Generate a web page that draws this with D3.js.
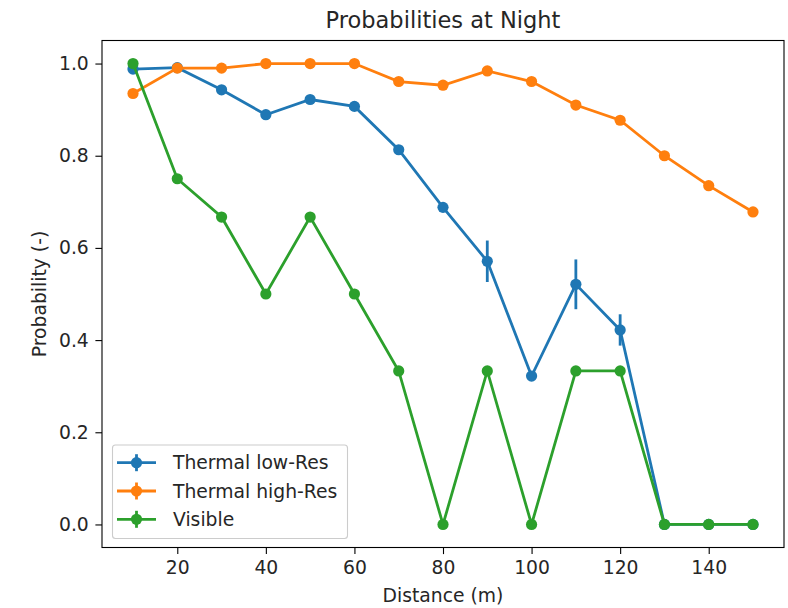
<!DOCTYPE html>
<html>
<head>
<meta charset="utf-8">
<script src="https://cdn.jsdelivr.net/npm/d3@7"></script>
<style>
  body { margin: 0; background: #fff; }
  svg text { font-family: "DejaVu Sans", sans-serif; fill: #262626; }
</style>
</head>
<body>
<svg id="vis" width="788" height="608"></svg>
<script>
// data
var distances = [10, 20, 30, 40, 50, 60, 70, 80, 90, 100, 110, 120, 130, 140, 150];
var lowRes = [0.988, 0.991, 0.943, 0.889, 0.922, 0.907, 0.813, 0.688, 0.571, 0.322, 0.521, 0.422, 0, 0, 0];
var lowResErr = [0, 0, 0, 0, 0, 0, 0, 0, 0.045, 0, 0.054, 0.034, 0, 0, 0];
var highRes = [0.935, 0.990, 0.990, 1.0, 1.0, 1.0, 0.961, 0.953, 0.984, 0.961, 0.910, 0.877, 0.800, 0.735, 0.678];
var highResErr = [0, 0, 0, 0, 0, 0, 0, 0, 0, 0, 0, 0, 0, 0, 0];
var visible = [1.0, 0.75, 0.667, 0.5, 0.667, 0.5, 0.333, 0, 0.333, 0, 0.333, 0.333, 0, 0, 0];
var visibleErr = [0, 0, 0, 0, 0, 0, 0, 0, 0, 0, 0, 0, 0, 0, 0];
var seriesNames = ["Thermal low-Res", "Thermal high-Res", "Visible"];
var xTicks = [20, 40, 60, 80, 100, 120, 140];
var yTicks = [0.0, 0.2, 0.4, 0.6, 0.8, 1.0];

var colors = ["#1f77b4", "#ff7f0e", "#2ca02c"];
var allSeries = [
  {name: seriesNames[0], vals: lowRes, err: lowResErr},
  {name: seriesNames[1], vals: highRes, err: highResErr},
  {name: seriesNames[2], vals: visible, err: visibleErr}
];

// plot box (named so they don't clash with window.top)
var axL = 102, axR = 784, axT = 40.5, axB = 547.5;
var fs = 18.75;

var svg = d3.select("#vis");

var x = d3.scaleLinear().domain([3, 157]).range([axL, axR]);
var y = d3.scaleLinear().domain([-0.05, 1.05]).range([axB, axT]);

// x axis
var gx = svg.append("g")
  .attr("transform", "translate(0," + axB + ")")
  .call(d3.axisBottom(x).tickValues(xTicks).tickFormat(d3.format("d"))
    .tickSize(6.6).tickPadding(6.6).tickSizeOuter(0));
gx.select(".domain").remove();
gx.selectAll("line").attr("stroke", "#000").attr("stroke-width", 1.1);
gx.selectAll("text").style("font-size", fs + "px").style("font-family", "DejaVu Sans").attr("fill", "#262626");

// y axis
var gy = svg.append("g")
  .attr("transform", "translate(" + axL + ",0)")
  .call(d3.axisLeft(y).tickValues(yTicks).tickFormat(d3.format(".1f"))
    .tickSize(6.6).tickPadding(6.6).tickSizeOuter(0));
gy.select(".domain").remove();
gy.selectAll("line").attr("stroke", "#000").attr("stroke-width", 1.1);
gy.selectAll("text").style("font-size", fs + "px").style("font-family", "DejaVu Sans").attr("fill", "#262626");

// series
var line = d3.line()
  .x(function(d) { return x(d.x); })
  .y(function(d) { return y(d.y); });

allSeries.forEach(function(s, si) {
  var pts = distances.map(function(d, i) { return {x: d, y: s.vals[i], e: s.err[i]}; });
  var g = svg.append("g");
  g.append("path")
    .datum(pts)
    .attr("d", line)
    .attr("fill", "none")
    .attr("stroke", colors[si])
    .attr("stroke-width", 2.8);
  g.selectAll(".err")
    .data(pts.filter(function(p) { return p.e > 0; }))
    .enter()
    .append("line")
    .attr("x1", function(p) { return x(p.x); })
    .attr("x2", function(p) { return x(p.x); })
    .attr("y1", function(p) { return y(p.y - p.e); })
    .attr("y2", function(p) { return y(p.y + p.e); })
    .attr("stroke", colors[si])
    .attr("stroke-width", 2.8);
  g.selectAll("circle")
    .data(pts)
    .enter()
    .append("circle")
    .attr("cx", function(p) { return x(p.x); })
    .attr("cy", function(p) { return y(p.y); })
    .attr("r", 5.6)
    .attr("fill", colors[si]);
});

// frame
svg.append("rect")
  .attr("x", axL).attr("y", axT)
  .attr("width", axR - axL).attr("height", axB - axT)
  .attr("fill", "none").attr("stroke", "#000").attr("stroke-width", 1.1);

// title and labels
svg.append("text")
  .attr("x", (axL + axR) / 2).attr("y", 28)
  .attr("text-anchor", "middle")
  .style("font-size", "22.5px")
  .text("Probabilities at Night");

svg.append("text")
  .attr("x", (axL + axR) / 2).attr("y", 602)
  .attr("text-anchor", "middle")
  .style("font-size", fs + "px")
  .text("Distance (m)");

svg.append("text")
  .attr("transform", "translate(46," + (axT + axB) / 2 + ") rotate(-90)")
  .attr("text-anchor", "middle")
  .style("font-size", fs + "px")
  .text("Probability (-)");

// legend
var lg = svg.append("g");
lg.append("rect")
  .attr("x", 112.5).attr("y", 445)
  .attr("width", 235).attr("height", 93.5)
  .attr("rx", 3)
  .attr("fill", "#fff").attr("fill-opacity", 0.8)
  .attr("stroke", "#cccccc").attr("stroke-width", 1.1);

seriesNames.forEach(function(n, i) {
  var cy = 462.7 + i * 28.3;
  lg.append("line")
    .attr("x1", 117).attr("x2", 156)
    .attr("y1", cy).attr("y2", cy)
    .attr("stroke", colors[i]).attr("stroke-width", 2.8);
  lg.append("line")
    .attr("x1", 136.5).attr("x2", 136.5)
    .attr("y1", cy - 8.5).attr("y2", cy + 8.5)
    .attr("stroke", colors[i]).attr("stroke-width", 2.8);
  lg.append("circle")
    .attr("cx", 136.5).attr("cy", cy).attr("r", 5.6)
    .attr("fill", colors[i]);
  lg.append("text")
    .attr("x", 173).attr("y", cy + 6.7)
    .style("font-size", fs + "px")
    .text(n);
});
</script>
</body>
</html>
